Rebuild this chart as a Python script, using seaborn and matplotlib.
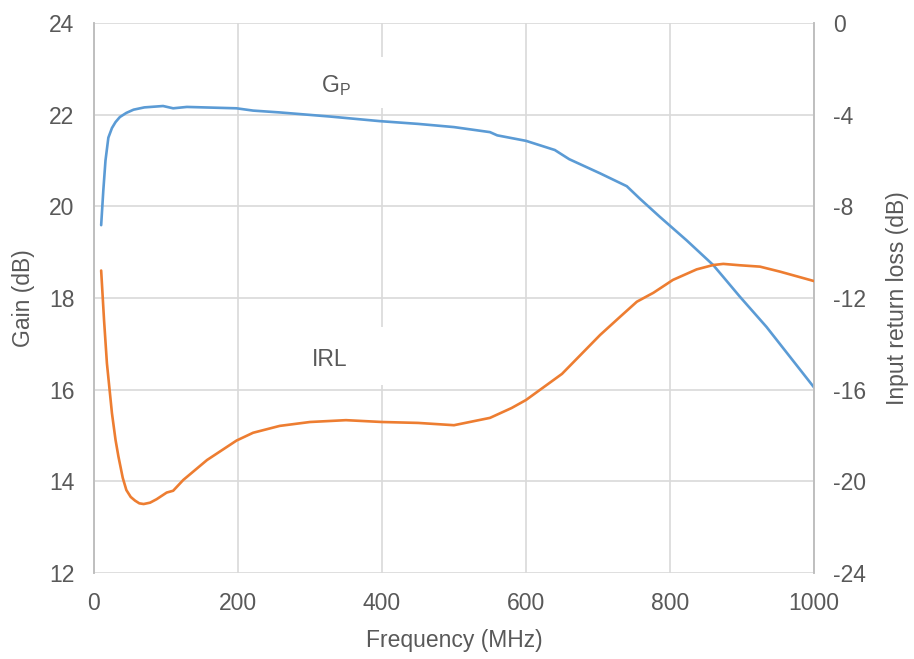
import numpy as np
import pandas as pd
import matplotlib.pyplot as plt
import seaborn as sns
from matplotlib.patches import Rectangle

# Gain (left axis) and input return loss (right axis) vs frequency
gain_freq = [10, 13, 16, 20, 25, 30, 36, 45, 55, 70, 96, 110, 129, 198, 221, 258, 328, 397,
             450, 500, 550, 560, 600, 640, 660, 703, 740, 758, 786, 823, 860, 874, 897, 934,
             1000]
gain_db = [19.59, 20.35, 21.0, 21.5, 21.71, 21.84, 21.95, 22.04, 22.11, 22.16, 22.19, 22.14,
           22.17, 22.14, 22.09, 22.05, 21.96, 21.86, 21.8, 21.73, 21.62, 21.55, 21.43, 21.23,
           21.03, 20.72, 20.44, 20.17, 19.77, 19.26, 18.72, 18.46, 18.03, 17.37, 16.05]

irl_freq = [10, 14, 18, 25, 30, 34, 40, 45, 51, 57, 63, 69, 78, 87, 101, 110, 124, 157, 198,
            221, 258, 300, 350, 400, 450, 500, 550, 580, 600, 650, 703, 731, 754, 777, 804,
            837, 860, 874, 897, 925, 953, 1000]
irl_db = [-10.8, -12.96, -14.85, -17.03, -18.2, -18.92, -19.85, -20.38, -20.68, -20.84,
          -20.96, -20.99, -20.93, -20.78, -20.49, -20.41, -19.94, -19.07, -18.22, -17.88,
          -17.58, -17.41, -17.33, -17.41, -17.45, -17.55, -17.23, -16.8, -16.45, -15.31,
          -13.61, -12.81, -12.16, -11.77, -11.21, -10.75, -10.56, -10.51, -10.57, -10.63,
          -10.85, -11.26]

gain_df = pd.DataFrame({"freq": gain_freq, "gain": gain_db})
irl_df = pd.DataFrame({"freq": irl_freq, "irl": irl_db})

sns.set_theme(style="white")
plt.rcParams['font.family'] = ['Liberation Sans', 'DejaVu Sans']
plt.rcParams['axes.unicode_minus'] = False

text_col = "#595959"
grid_col = "#d9d9d9"
fs = 16.5

fig = plt.figure(figsize=(9.14, 6.59), dpi=100)
ax = fig.add_axes([0.1028, 0.1305, 0.7878, 0.8345])
ax2 = ax.twinx()

ax.set_axisbelow(True)
ax.grid(True, color=grid_col, linewidth=1.2)

# white boxes behind the curve labels (they hide the gridline)
ax.add_patch(Rectangle((300, 22.15), 105, 1.11, facecolor="white", edgecolor="none", zorder=1))
ax.add_patch(Rectangle((300, 16.1), 105, 1.27, facecolor="white", edgecolor="none", zorder=1))

sns.lineplot(data=gain_df, x="freq", y="gain", ax=ax, color="#5b9bd5", linewidth=1.9, zorder=3)
sns.lineplot(data=irl_df, x="freq", y="irl", ax=ax2, color="#ed7d31", linewidth=1.9, zorder=3)

ax.text(336, 22.64, r"G$_\mathregular{P}$", fontsize=fs, color=text_col, ha="center", va="center", zorder=4)
ax.text(328, 16.65, "IRL", fontsize=fs, color=text_col, ha="center", va="center", zorder=4)

ax.set_xlim(0, 1000)
ax.set_ylim(12, 24)
ax.set_xticks(np.arange(0, 1001, 200))
ax.set_yticks(np.arange(12, 25, 2))
ax2.set_ylim(-24, 0)
ax2.set_yticks(np.arange(-24, 1, 4))

for a in (ax, ax2):
    a.tick_params(length=0, labelsize=fs, labelcolor=text_col, pad=14)
    for s in ("top", "bottom"):
        a.spines[s].set_visible(False)
    for s in ("left", "right"):
        a.spines[s].set_color("#bfbfbf")
        a.spines[s].set_linewidth(1.2)

ax.set_xlabel("Frequency (MHz)", fontsize=fs, color=text_col, labelpad=10)
ax.set_ylabel("Gain (dB)", fontsize=fs, color=text_col, labelpad=10)
ax2.set_ylabel("Input return loss (dB)", fontsize=fs, color=text_col, labelpad=14)

fig.savefig("out.png", dpi=100)
